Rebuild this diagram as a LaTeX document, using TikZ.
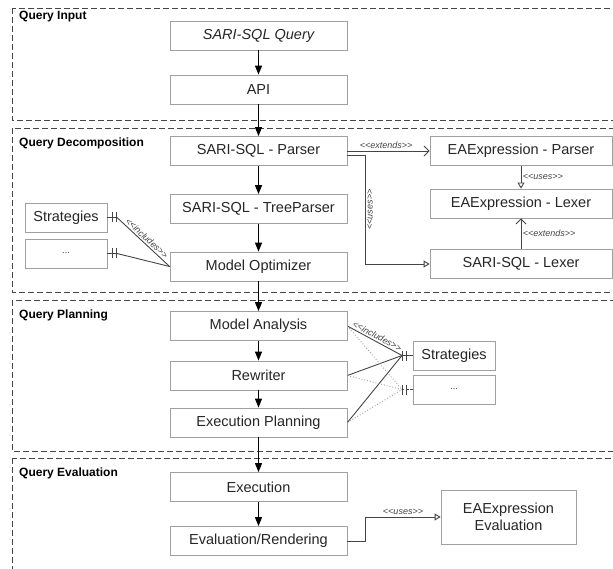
\documentclass[tikz,border=0pt]{standalone}
\usepackage{fontspec}
\setmainfont{Liberation Sans}
\usetikzlibrary{arrows.meta}
\definecolor{boxgray}{HTML}{A0A0A0}
\definecolor{linegray}{HTML}{454545}
\newcommand\stereotype[1]{<\kern0pt<#1>\kern0pt>}

\begin{document}
\begin{tikzpicture}[x=1pt,y=-1pt,
    main node/.style={draw=boxgray,line width=0.8pt,minimum width=177pt,minimum height=29pt,inner sep=0pt,text=black!85,font=\fontsize{14.5}{17}\selectfont},
    side node/.style={main node,minimum width=82pt},
    ea node/.style={main node,minimum width=182pt},
    frame/.style={draw=linegray,line width=0.8pt,dash pattern=on 6pt off 3pt},
    frame label/.style={anchor=west,inner sep=1pt,font=\bfseries\fontsize{12}{14}\selectfont},
    stereo/.style={inner sep=1.5pt,text=linegray,font=\itshape\fontsize{9}{10}\selectfont},
    flow/.style={-{Triangle[length=9pt,width=7pt]},line width=1pt,draw=black},
    extends/.style={-{Straight Barb[length=5pt,width=10pt]},line width=0.9pt,draw=linegray},
    uses/.style={-{Triangle[open,length=6pt,width=7pt]},line width=0.9pt,draw=linegray},
    incl/.style={line width=0.9pt,draw=linegray},
    onebar/.style={{Bar[width=10pt]}-}]

    \clip (0,0) rectangle (613,569);
    \fill[white] (0,0) rectangle (613,569);

    % layers
    \draw[frame] (12,8) rectangle (640,120);
    \draw[frame] (12,128) rectangle (640,292);
    \draw[frame] (12,300) rectangle (640,451);
    \draw[frame] (12,458) rectangle (640,620);
    \node[frame label] (l1) at (18,17) {Query Input};
    \node[frame label] (l2) at (18,143) {Query Decomposition};
    \node[frame label] (l3) at (18,315) {Query Planning};
    \node[frame label] (l4) at (18,473) {Query Evaluation};

    % main column
    \node[main node,font=\itshape\fontsize{14.5}{17}\selectfont] (1) at (258.5,35.5) {SARI-SQL Query};
    \node[main node] (2) [below of=1,node distance=54pt] {API};
    \node[main node] (3) [below of=2,node distance=61.5pt] {SARI-SQL - Parser};
    \node[main node] (4) [below of=3,node distance=58pt] {SARI-SQL - TreeParser};
    \node[main node] (5) [below of=4,node distance=57.5pt] {Model Optimizer};
    \node[main node] (6) [below of=5,node distance=59.5pt] {Model Analysis};
    \node[main node] (7) [below of=6,node distance=49.5pt] {Rewriter};
    \node[main node] (8) [below of=7,node distance=47pt] {Execution Planning};
    \node[main node] (9) [below of=8,node distance=64.5pt] {Execution};
    \node[main node] (10) [below of=9,node distance=54pt] {Evaluation/Rendering};

    % side boxes
    \node[ea node] (11) at (521,151) {EAExpression - Parser};
    \node[ea node] (12) at (521,203.5) {EAExpression - Lexer};
    \node[ea node] (13) at (521,264) {SARI-SQL - Lexer};
    \node[side node] (14) at (66,217.5) {Strategies};
    \node[side node,font=\fontsize{9}{10}\selectfont] (15) at (66,253.5) {...};
    \node[side node] (16) at (454,355.5) {Strategies};
    \node[side node,font=\fontsize{9}{10}\selectfont] (17) at (454,389.5) {...};
    \node[main node,minimum width=135pt,minimum height=54pt,align=center] (18) at (508.5,517) {EAExpression\\Evaluation};

    \coordinate (j1) at (117,217.5);
    \coordinate (j2) at (117,253.5);
    \coordinate (j3) at (402,355.5);
    \coordinate (j4) at (402,389.5);

    \draw[flow] (1) -- (2);
    \draw[flow] (2) -- (3);
    \draw[flow] (3) -- (4);
    \draw[flow] (4) -- (5);
    \draw[flow] (5) -- (6);
    \draw[flow] (6) -- (7);
    \draw[flow] (7) -- (8);
    \draw[flow] (8) -- (9);
    \draw[flow] (9) -- (10);

    \draw[extends] (3.east) -- node[stereo,above,pos=0.47] {\stereotype{extends}} (11.west);
    \draw[uses] ([yshift=-4pt]3.east) -- ++(18,0) |- node[stereo,pos=0.25,rotate=90,anchor=north] {\stereotype{uses}} (13.west);
    \draw[uses] (11) -- node[stereo,right] {\stereotype{uses}} (12);
    \draw[extends] (13) -- node[stereo,right] {\stereotype{extends}} (12);
    \draw[uses] (10.east) -- ++(18,0) |- node[stereo,pos=0.75,above] {\stereotype{uses}} (18.west);

    % includes
    \draw[incl,onebar] (j1) -- (14.east);
    \draw[incl,onebar] ([xshift=-4pt]j1) -- (14.east);
    \draw[incl,onebar] (j2) -- (15.east);
    \draw[incl,onebar] ([xshift=-4pt]j2) -- (15.east);
    \draw[incl] (5.west) -- node[stereo,sloped,above] {\stereotype{includes}} (j1);
    \draw[incl] (5.west) -- (j2);

    \draw[incl,onebar] (j3) -- (16.west);
    \draw[incl,onebar] ([xshift=4pt]j3) -- (16.west);
    \draw[incl,onebar,dotted] (j4) -- (17.west);
    \draw[incl,onebar,dotted] ([xshift=4pt]j4) -- (17.west);
    \draw[incl] (6.east) -- node[stereo,sloped,above] {\stereotype{includes}} (j3);
    \draw[incl] (7.east) -- (j3);
    \draw[incl] (8.east) -- (j3);
    \draw[incl,dotted,draw=boxgray] (6.east) -- (j4);
    \draw[incl,dotted,draw=boxgray] (7.east) -- (j4);
    \draw[incl,dotted,draw=boxgray] (8.east) -- (j4);
\end{tikzpicture}
\end{document}
